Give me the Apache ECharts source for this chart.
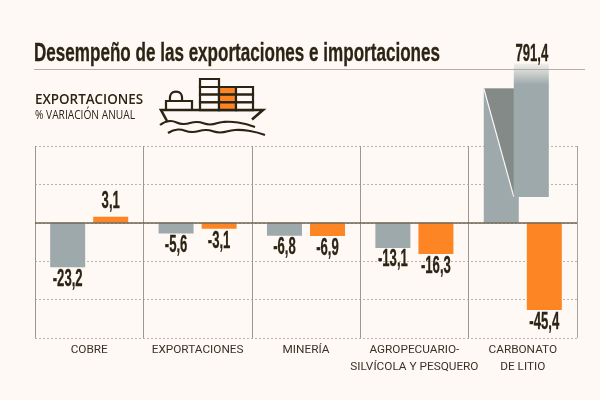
<!DOCTYPE html>
<html><head><meta charset="utf-8">
<style>html,body{margin:0;padding:0;background:#fef9f4}#c{width:600px;height:400px}</style>
<script src="https://cdn.jsdelivr.net/npm/echarts@6/dist/echarts.min.js"></script>
</head><body><div id="c"></div>
<script>
const categories = ['COBRE','EXPORTACIONES','MINERÍA','AGROPECUARIO-\nSILVÍCOLA Y PESQUERO','CARBONATO\nDE LITIO'];
const exportsValues = [-23.2,-5.6,-6.8,-13.1,791.4];
const importsValues = [3.1,-3.1,-6.9,-16.3,-45.4];
const yTicks = {min:-60,max:40,interval:20};
const breakLower = 70, breakUpperFrom = 13.5, breakUpperTo = 83; // axis-break drawing, in axis units

const BG='#fef9f4', GRAY='#9ea9ab', ORANGE='#fd8524', INK='#2b2314', DARKG='#838a87';
const fmt = v => String(v).replace('.',',');
const chart = echarts.init(document.getElementById('c'),null,{renderer:'canvas'});

const ctx = document.createElement('canvas').getContext('2d');
const fitScale = (text,font,width)=>{ctx.font=font;return width/ctx.measureText(text).width;};

const labelFont = 'bold 23px "Liberation Sans"';
function labelEl(x,y,text){
  return {type:'text',x,y,scaleX:0.57,scaleY:1,style:{text,font:labelFont,fill:INK,stroke:INK,lineWidth:0.3,align:'center',verticalAlign:'middle'}};
}
const ship = [];
const L = {stroke:INK,lineWidth:2.2,fill:BG};
const rowsY=[87,94.7,102.4];
rowsY.forEach(y=>{
  ship.push({type:'rect',shape:{x:200,y,width:19,height:7.7},style:L});
  ship.push({type:'rect',shape:{x:219,y,width:17,height:7.7},style:{...L,fill:ORANGE}});
  ship.push({type:'rect',shape:{x:236,y,width:17,height:7.7},style:L});
});
ship.push({type:'rect',shape:{x:200,y:79,width:19,height:8},style:L});
ship.push({type:'polyline',shape:{points:[[170,101],[170,97],[171,94],[173,92.3],[176,91.6],[179,92.3],[181,94],[182,97],[182,101]],smooth:0.3},style:{stroke:INK,lineWidth:2.2,fill:'none'}});
ship.push({type:'rect',shape:{x:166,y:101,width:26,height:9},style:L});
ship.push({type:'polyline',shape:{points:[[167,121],[161,110],[263,110],[252,119.5]]},style:{stroke:INK,lineWidth:2.6,fill:'none'}});
const curve=(pts)=>({type:'polyline',shape:{points:pts,smooth:0.5},style:{stroke:INK,lineWidth:2.2,fill:'none'}});
ship.push(curve([[160,125],[170,121],[183,124],[197,122],[210,124.5],[223,122],[238,122.5],[255,127]]));
ship.push(curve([[168,133],[178,129.5],[192,132],[206,130],[220,132.5],[235,130],[250,131],[265,135]]));

chart.setOption({
  backgroundColor:BG,
  animation:false,
  grid:{left:35,right:23,top:146,bottom:62},
  xAxis:{type:'category',data:categories,position:'bottom',
    axisLine:{show:false,onZero:false},axisTick:{show:false},
    axisLabel:{color:'#3a3226',fontFamily:'Roboto',fontSize:11.8,lineHeight:17,margin:4,interval:0,verticalAlign:'top'},
    splitLine:{show:true,interval:0,lineStyle:{color:'#9c9890',width:1}}},
  yAxis:{type:'value',min:yTicks.min,max:yTicks.max,interval:yTicks.interval,
    axisLabel:{show:false},axisLine:{show:false},axisTick:{show:false},
    splitLine:{show:true,lineStyle:{color:'#b9b4aa',type:[2,2],width:1}}},
  series:[
    {name:'Exportaciones',type:'bar',barWidth:35,barGap:'23%',clip:false,z:3,
     data:exportsValues.map(v=>Math.min(v,breakLower)),
     itemStyle:{color:GRAY},
     markLine:{silent:true,symbol:'none',label:{show:false},z:6,lineStyle:{color:'#6e6656',type:'solid',width:1.5},data:[{yAxis:0}]}},
    {name:'Importaciones',type:'bar',barWidth:35,clip:false,z:3,data:importsValues,itemStyle:{color:ORANGE}},
    {name:'Corte',type:'custom',z:4,clip:false,coordinateSystem:'cartesian2d',data:exportsValues.map((v,i)=>[i,v]),
     renderItem(params,api){
       const v=api.value(1); if(v<=breakLower) return null;
       const c=api.coord([api.value(0),0]);
       const xL=c[0]-39, xU=c[0]-9;
       const yTop=api.coord([0,breakLower])[1], yLow=api.coord([0,breakUpperFrom])[1], yHigh=api.coord([0,breakUpperTo])[1];
       return {type:'group',children:[
         {type:'polygon',shape:{points:[[xL,yTop],[xU,yTop],[xU,yLow]]},style:{fill:DARKG}},
         {type:'line',shape:{x1:xL,y1:yTop,x2:xU,y2:yLow},style:{stroke:BG,lineWidth:1.2}},
         {type:'rect',shape:{x:xU,y:yHigh,width:35,height:yLow-yHigh},style:{fill:new echarts.graphic.LinearGradient(0,0,0,1,[{offset:0,color:'rgba(158,169,171,0.12)'},{offset:0.16,color:GRAY},{offset:1,color:GRAY}])}}
       ]};
     }},
    {name:'EtiquetasE',type:'custom',z:7,clip:false,data:exportsValues.map((v,i)=>[i,v]),
     renderItem(params,api){
       const v=api.value(1);const c=api.coord([api.value(0),Math.min(v,breakUpperTo)]);
       if(v>breakLower) return labelEl(c[0]+9,c[1]-9,fmt(v));
       return labelEl(c[0]-21.5,c[1]+12,fmt(v));
     }},
    {name:'EtiquetasI',type:'custom',z:7,clip:false,data:importsValues.map((v,i)=>[i,v]),
     renderItem(params,api){
       const v=api.value(1);const c=api.coord([api.value(0),v]);
       return labelEl(c[0]+21.5,c[1]+(v<0?13:-15),fmt(v));
     }}
  ],
  graphic:[
    {type:'line',shape:{x1:577.5,y1:146,x2:577.5,y2:338},style:{stroke:'#a8a49c',lineWidth:1},z:1},
    {type:'text',x:34,y:54,scaleX:fitScale('Desempeño de las exportaciones e importaciones','bold 26px "Liberation Sans"',406),style:{text:'Desempeño de las exportaciones e importaciones',font:'bold 26px "Liberation Sans"',fill:INK,stroke:INK,lineWidth:0.3,verticalAlign:'middle'}},
    {type:'line',shape:{x1:34,y1:69.5,x2:585,y2:69.5},style:{stroke:'#b5aea5',lineWidth:1},z:1},
    {type:'text',x:35,y:100,scaleX:fitScale('EXPORTACIONES','600 14px "Open Sans"',108),style:{text:'EXPORTACIONES',font:'600 14px "Open Sans"',fill:INK,verticalAlign:'middle'}},
    {type:'text',x:35,y:115.5,scaleX:fitScale('% VARIACIÓN ANUAL','400 12px "Open Sans"',100),style:{text:'% VARIACIÓN ANUAL',font:'400 12px "Open Sans"',fill:INK,verticalAlign:'middle'}},
    {type:'group',children:ship}
  ]
});
</script></body></html>
